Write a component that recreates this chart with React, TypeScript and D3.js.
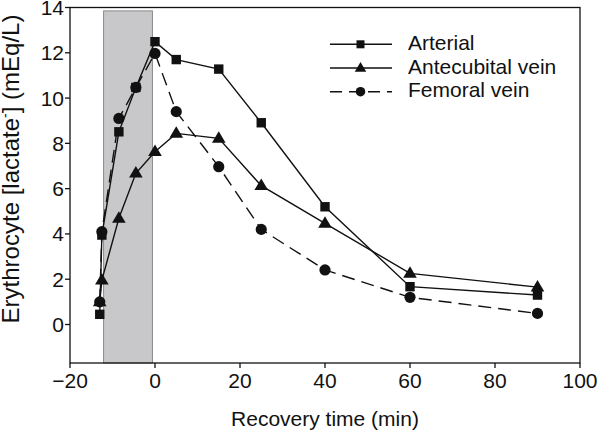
import React from "react";
import * as d3 from "d3";

const times = [-13, -12.5, -8.5, -4.5, 0, 5, 15, 25, 40, 60, 90];
const arterial = [0.45, 3.95, 8.51, 10.47, 12.49, 11.7, 11.28, 8.91, 5.2, 1.67, 1.3];
const antecubital = [1.0, 1.96, 4.69, 6.68, 7.63, 8.44, 8.22, 6.13, 4.47, 2.26, 1.65];
const femoral = [1.0, 4.1, 9.1, 10.47, 11.97, 9.4, 6.97, 4.2, 2.41, 1.2, 0.49];
const seriesNames = ["Arterial", "Antecubital vein", "Femoral vein"];
const xTicks = [-20, 0, 20, 40, 60, 80, 100];
const yTicks = [0, 2, 4, 6, 8, 10, 12, 14];
const shadeRange = [-12.1, -0.6];

const W = 600;
const H = 433;
const left = 70, right = 580, top = 7.5, bottom = 363;

function Marker({ kind, x, y, s = 1 }: { kind: string; x: number; y: number; s?: number }) {
  if (kind === "square") {
    const h = 4.7 * s;
    return <rect x={x - h} y={y - h} width={2 * h} height={2 * h} fill="#111" />;
  }
  if (kind === "triangle") {
    const w = 6.8 * s, hh = 11.5 * s;
    const pts = `${x},${y - hh * 0.62} ${x - w},${y + hh * 0.38} ${x + w},${y + hh * 0.38}`;
    return <polygon points={pts} fill="#111" />;
  }
  return <circle cx={x} cy={y} r={5.6 * s} fill="#111" />;
}

export default function App() {
  const x = d3.scaleLinear().domain([-20, 100]).range([left, right]);
  const y = d3.scaleLinear().domain([-1.7, 14]).range([bottom, top]);
  const line = d3
    .line<[number, number]>()
    .x((d) => x(d[0]))
    .y((d) => y(d[1]));

  const series = [
    { name: seriesNames[0], vals: arterial, kind: "square", dash: undefined },
    { name: seriesNames[1], vals: antecubital, kind: "triangle", dash: undefined },
    { name: seriesNames[2], vals: femoral, kind: "circle", dash: "13,7" },
  ];

  const font = "Liberation Sans, Arial, Helvetica, sans-serif";

  return (
    <svg width={W} height={H} style={{ position: "absolute", left: 0, top: 0 }} fontFamily={font}>
      <rect x={0} y={0} width={W} height={H} fill="#fff" />
      {/* shaded exercise period */}
      <rect
        x={x(shadeRange[0])}
        y={y(13.85)}
        width={x(shadeRange[1]) - x(shadeRange[0])}
        height={bottom - y(13.85)}
        fill="#c8c8ca"
        stroke="#8a8a8a"
        strokeWidth={1}
      />
      {/* frame */}
      <rect x={left} y={top} width={right - left} height={bottom - top} fill="none" stroke="#111" strokeWidth={1.3} />
      {/* x ticks */}
      {xTicks.map((t) => (
        <g key={"x" + t}>
          <line x1={x(t)} x2={x(t)} y1={bottom} y2={bottom + 5} stroke="#111" strokeWidth={1.3} />
          <text x={x(t)} y={388} textAnchor="middle" fontSize={21} fill="#111">
            {t < 0 ? "\u2212" + Math.abs(t) : t}
          </text>
        </g>
      ))}
      {/* y ticks */}
      {yTicks.map((t) => (
        <g key={"y" + t}>
          <line x1={left - 5} x2={left} y1={y(t)} y2={y(t)} stroke="#111" strokeWidth={1.3} />
          <text x={64} y={y(t)} dy="0.36em" textAnchor="end" fontSize={21} fill="#111">
            {t}
          </text>
        </g>
      ))}
      {/* axis labels */}
      <text x={(left + right) / 2} y={426} textAnchor="middle" fontSize={21} fill="#111">
        Recovery time (min)
      </text>
      <text
        transform={`translate(19,${(7 + 331) / 2}) rotate(-90)`}
        textAnchor="middle"
        fontSize={24}
        fill="#111"
      >
        Erythrocyte [lactate
        <tspan fontSize={14} dy={-9}>-</tspan>
        <tspan dy={9}>] (mEq/L)</tspan>
      </text>
      {/* series */}
      {series.map((s) => {
        const pts = times.map((t, i) => [t, s.vals[i]] as [number, number]);
        return (
          <g key={s.name}>
            <path d={line(pts) || ""} fill="none" stroke="#111" strokeWidth={1.4} strokeDasharray={s.dash} />
            {pts.map((p, i) => (
              <Marker key={i} kind={s.kind} x={x(p[0])} y={y(p[1])} />
            ))}
          </g>
        );
      })}
      {/* legend */}
      {series.map((s, i) => {
        const ly = 44.3 + i * 23.7;
        return (
          <g key={"lg" + s.name}>
            <line x1={330} x2={392} y1={ly} y2={ly} stroke="#111" strokeWidth={1.4} strokeDasharray={s.dash ? "12,7" : undefined} />
            <Marker kind={s.kind} x={360.5} y={ly} s={0.85} />
            <text x={408} y={ly + 5.5} fontSize={21} fill="#111">
              {s.name}
            </text>
          </g>
        );
      })}
    </svg>
  );
}
